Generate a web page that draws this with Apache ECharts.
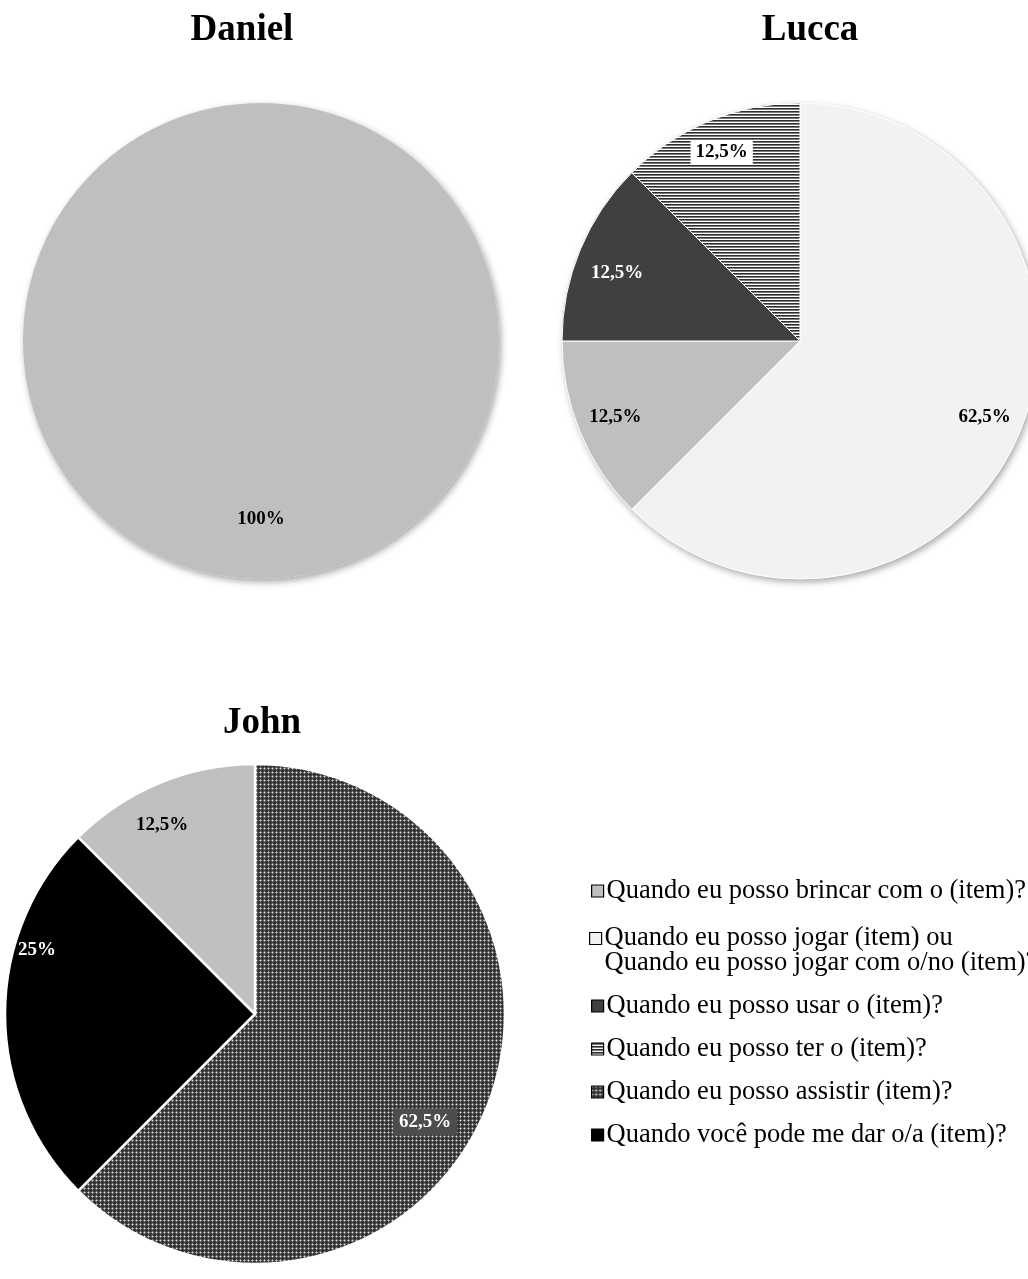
<!DOCTYPE html>
<html>
<head>
<meta charset="utf-8">
<script src="https://cdn.jsdelivr.net/npm/echarts@6/dist/echarts.min.js"></script>
<style>
  html, body { margin: 0; padding: 0; background: #ffffff; }
  #chart { width: 1028px; height: 1279px; }
</style>
</head>
<body>
<div id="chart"></div>
<script>
// Question forms (categories)
const catBrincar  = 'Quando eu posso brincar com o (item)?';
const catJogar    = 'Quando eu posso jogar (item) ou Quando eu posso jogar com o/no (item)?';
const catUsar     = 'Quando eu posso usar o (item)?';
const catTer      = 'Quando eu posso ter o (item)?';
const catAssistir = 'Quando eu posso assistir (item)?';
const catDar      = 'Quando você pode me dar o/a (item)?';
const legendOrder = [catBrincar, catJogar, catUsar, catTer, catAssistir, catDar];

// Percentages per child
const danielNames  = [catBrincar];
const danielValues = [100];
const luccaNames   = [catJogar, catBrincar, catUsar, catTer];
const luccaValues  = [62.5, 12.5, 12.5, 12.5];
const johnNames    = [catAssistir, catDar, catBrincar];
const johnValues   = [62.5, 25, 12.5];

// ---- fill patterns ----
function makeStripes() {
  const c = document.createElement('canvas');
  c.width = 4; c.height = 3;
  const g = c.getContext('2d');
  g.fillStyle = '#ffffff'; g.fillRect(0, 0, 4, 3);
  g.fillStyle = '#2e2e2e'; g.fillRect(0, 0, 4, 1);
  g.fillStyle = '#7a7a7a'; g.fillRect(0, 1, 4, 1);
  return { image: c, repeat: 'repeat' };
}
function makeDotGrid() {
  const c = document.createElement('canvas');
  c.width = 4; c.height = 4;
  const g = c.getContext('2d');
  g.fillStyle = '#3a3a3a'; g.fillRect(0, 0, 4, 4);
  g.fillStyle = '#d8d8d8'; g.fillRect(0, 0, 1, 1);
  g.fillStyle = '#8a8a8a';
  g.fillRect(1, 0, 1, 1); g.fillRect(3, 0, 1, 1);
  g.fillRect(0, 1, 1, 1); g.fillRect(0, 3, 1, 1);
  g.fillStyle = '#262626'; g.fillRect(2, 2, 1, 1);
  return { image: c, repeat: 'repeat' };
}

const fills = {};
fills[catBrincar]  = '#bfbfbf';
fills[catJogar]    = '#f2f2f2';
fills[catUsar]     = '#404040';
fills[catTer]      = makeStripes();
fills[catAssistir] = makeDotGrid();
fills[catDar]      = '#000000';

const labelColor = {};
labelColor[catUsar] = '#ffffff';
labelColor[catDar]  = '#ffffff';

const SERIF = '"Liberation Serif", "Times New Roman", serif';

// pie geometry and label placement (fraction of radius, angular nudge in degrees)
const pies = {
  daniel: { center: [261, 341], r: 238, labelFrac: [0.75], labelShift: [0] },
  lucca:  { center: [800, 341], r: 238, labelFrac: [0.84, 0.84, 0.82, 0.86], labelShift: [0, 0, -2, 0] },
  john:   { center: [255, 1014], r: 250, labelFrac: [0.806, 0.909, 0.842], labelShift: [9.9, 16.4, -3.7] }
};

function pctText(v) { return String(v).replace('.', ',') + '%'; }

function buildData(names, values, extraLabel) {
  return names.map((n, i) => {
    const item = {
      name: n,
      value: values[i],
      itemStyle: { color: fills[n] },
      label: { color: labelColor[n] || '#000000' }
    };
    if (extraLabel && extraLabel[i]) Object.assign(item.label, extraLabel[i]);
    return item;
  });
}

function labelPlacer(pie, values) {
  const total = values.reduce((a, b) => a + b, 0);
  return function (params) {
    const i = params.dataIndex;
    let cum = 0;
    for (let k = 0; k < i; k++) cum += values[k];
    const deg = (cum + values[i] / 2) / total * 360 + (pie.labelShift[i] || 0);
    const t = deg * Math.PI / 180;
    const d = pie.r * pie.labelFrac[i];
    return {
      x: pie.center[0] + Math.sin(t) * d,
      y: pie.center[1] - Math.cos(t) * d,
      align: 'center',
      verticalAlign: 'middle'
    };
  };
}

function pieSeries(pie, names, values, opts) {
  return Object.assign({
    type: 'pie',
    center: pie.center,
    radius: [0, pie.r],
    startAngle: 90,
    clockwise: true,
    animation: false,
    silent: true,
    label: {
      show: true,
      position: 'inside',
      formatter: p => pctText(p.value),
      fontFamily: SERIF,
      fontWeight: 'bold',
      fontSize: 19
    },
    labelLine: { show: false },
    labelLayout: labelPlacer(pie, values),
    emphasis: { disabled: true }
  }, opts, { data: buildData(names, values, opts.extraLabel) });
}

// soft drop shadow under a pie
function backdrop(pie) {
  return {
    type: 'pie',
    center: pie.center,
    radius: [0, pie.r],
    silent: true,
    animation: false,
    z: 1,
    label: { show: false },
    labelLine: { show: false },
    itemStyle: {
      color: '#ffffff',
      shadowBlur: 7,
      shadowOffsetX: 2,
      shadowOffsetY: 3,
      shadowColor: 'rgba(0,0,0,0.35)'
    },
    data: [{ value: 1, name: 'shadow' }]
  };
}

const LEGEND_FONT = 26.5;
const legendTextBase = { fontFamily: SERIF, fontSize: LEGEND_FONT, color: '#000000' };

function legendFor(name, top, twoLines) {
  const textStyle = Object.assign({}, legendTextBase, { lineHeight: 28, padding: [0, 0, 0, -2] });
  if (twoLines) {
    // an empty first line keeps the swatch level with the first text line
    textStyle.rich = {
      e: Object.assign({}, legendTextBase, { lineHeight: 25 }),
      a: Object.assign({}, legendTextBase, { lineHeight: 25 })
    };
  }
  return {
    data: [name],
    orient: 'vertical',
    left: twoLines ? 589 : 591,
    top: top,
    padding: 0,
    icon: 'rect',
    itemWidth: 12,
    itemHeight: 12,
    selectedMode: false,
    itemStyle: { borderColor: '#000000', borderWidth: 1.2 },
    formatter: twoLines
      ? () => '{e| }\n{a|Quando eu posso jogar (item) ou}\n{a|Quando eu posso jogar com o/no (item)?}'
      : n => n,
    textStyle: textStyle
  };
}

const legendTops = [877, 900, 992, 1035, 1078, 1121];

const titleStyle = { fontFamily: SERIF, fontWeight: 'bold', fontSize: 37, color: '#000000' };

const option = {
  backgroundColor: '#ffffff',
  title: [
    { text: 'Daniel', left: 237, top: 7, textAlign: 'center', textStyle: titleStyle },
    { text: 'Lucca',  left: 805, top: 7, textAlign: 'center', textStyle: titleStyle },
    { text: 'John',   left: 257, top: 700, textAlign: 'center', textStyle: titleStyle }
  ],
  legend: legendOrder.map((n, i) => legendFor(n, legendTops[i], n === catJogar)),
  series: [
    backdrop(pies.daniel),
    pieSeries(pies.daniel, danielNames, danielValues, { z: 2, itemStyle: { borderWidth: 0 } }),
    backdrop(pies.lucca),
    pieSeries(pies.lucca, luccaNames, luccaValues, {
      z: 2,
      itemStyle: { borderColor: '#ffffff', borderWidth: 1 },
      extraLabel: [null, null, null, { backgroundColor: '#ffffff', padding: [3, 5, 2, 5] }]
    }),
    pieSeries(pies.john, johnNames, johnValues, {
      z: 2,
      itemStyle: { borderColor: '#ffffff', borderWidth: 2.5 },
      extraLabel: [{ backgroundColor: '#4d4d4d', color: '#ffffff', padding: [5, 6, 3, 6] }, null, null]
    })
  ]
};

const chart = echarts.init(document.getElementById('chart'), null, { renderer: 'canvas' });
chart.setOption(option);
</script>
</body>
</html>
